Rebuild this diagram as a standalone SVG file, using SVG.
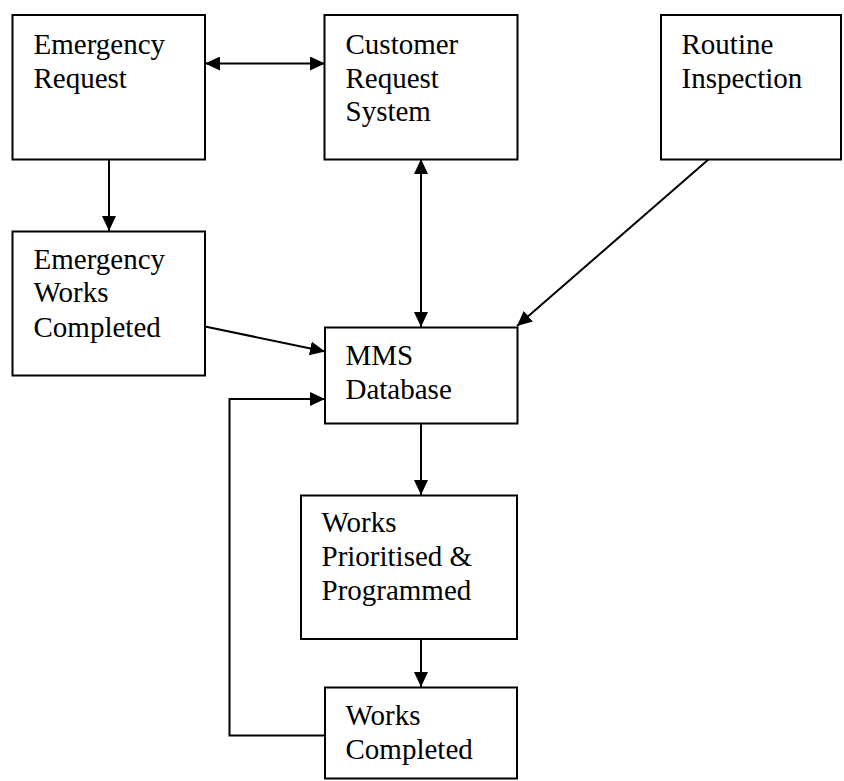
<svg xmlns="http://www.w3.org/2000/svg" width="844" height="781" viewBox="0 0 844 781">
<style>
.box{fill:#fff;stroke:#000;stroke-width:2}
.t{font-size:29px;fill:#000}
.c{fill:none;stroke:#000;stroke-width:2}
</style>
<defs>
<marker id="ah" viewBox="0 0 15 14" refX="15" refY="7" markerWidth="15" markerHeight="14" markerUnits="userSpaceOnUse" orient="auto-start-reverse">
<path d="M0,0 L15,7 L0,14 z" fill="#000"/>
</marker>
</defs>
<rect width="844" height="781" fill="#fff"/>
<g id="connectors">
<line class="c" x1="205" y1="63.5" x2="325" y2="63.5" marker-start="url(#ah)" marker-end="url(#ah)"/>
<line class="c" x1="109" y1="159" x2="109" y2="231" marker-end="url(#ah)"/>
<line class="c" x1="421" y1="159" x2="421" y2="327" marker-start="url(#ah)" marker-end="url(#ah)"/>
<line class="c" x1="709" y1="159" x2="517" y2="326" marker-end="url(#ah)"/>
<line class="c" x1="205" y1="326.5" x2="325" y2="351.5" marker-end="url(#ah)"/>
<line class="c" x1="421" y1="423" x2="421" y2="495" marker-end="url(#ah)"/>
<line class="c" x1="421" y1="639" x2="421" y2="687" marker-end="url(#ah)"/>
<polyline class="c" points="325,735.5 229.5,735.5 229.5,399 325,399" marker-end="url(#ah)"/>
</g>
<g font-family="'Liberation Serif', Tinos, 'Times New Roman', 'DejaVu Serif', serif">
<g id="emergency-request">
<rect class="box" x="12.5" y="15" width="192.5" height="144.5"/>
<text class="t" x="33.5" y="53.5">Emergency</text>
<text class="t" x="33.5" y="87.5">Request</text>
</g>
<g id="customer-request-system">
<rect class="box" x="324.5" y="15" width="193" height="144.5"/>
<text class="t" x="345.5" y="53.5">Customer</text>
<text class="t" x="345.5" y="87.5">Request</text>
<text class="t" x="345.5" y="121">System</text>
</g>
<g id="routine-inspection">
<rect class="box" x="661" y="15" width="180" height="144.5"/>
<text class="t" x="681.5" y="53.5">Routine</text>
<text class="t" x="681.5" y="87.5">Inspection</text>
</g>
<g id="emergency-works-completed">
<rect class="box" x="12.5" y="231.5" width="192.5" height="144"/>
<text class="t" x="33.5" y="268.5">Emergency</text>
<text class="t" x="33.5" y="302">Works</text>
<text class="t" x="33.5" y="336.5">Completed</text>
</g>
<g id="mms-database">
<rect class="box" x="325" y="327.5" width="192.5" height="96"/>
<text class="t" x="345.5" y="365">MMS</text>
<text class="t" x="345.5" y="398.5">Database</text>
</g>
<g id="works-prioritised">
<rect class="box" x="301" y="495.5" width="216" height="143.5"/>
<text class="t" x="321.5" y="531.5">Works</text>
<text class="t" x="321.5" y="565.5">Prioritised &amp;</text>
<text class="t" x="321.5" y="600">Programmed</text>
</g>
<g id="works-completed">
<rect class="box" x="325" y="687.5" width="192" height="91"/>
<text class="t" x="345.5" y="725">Works</text>
<text class="t" x="345.5" y="758.5">Completed</text>
</g>
</g>
</svg>
